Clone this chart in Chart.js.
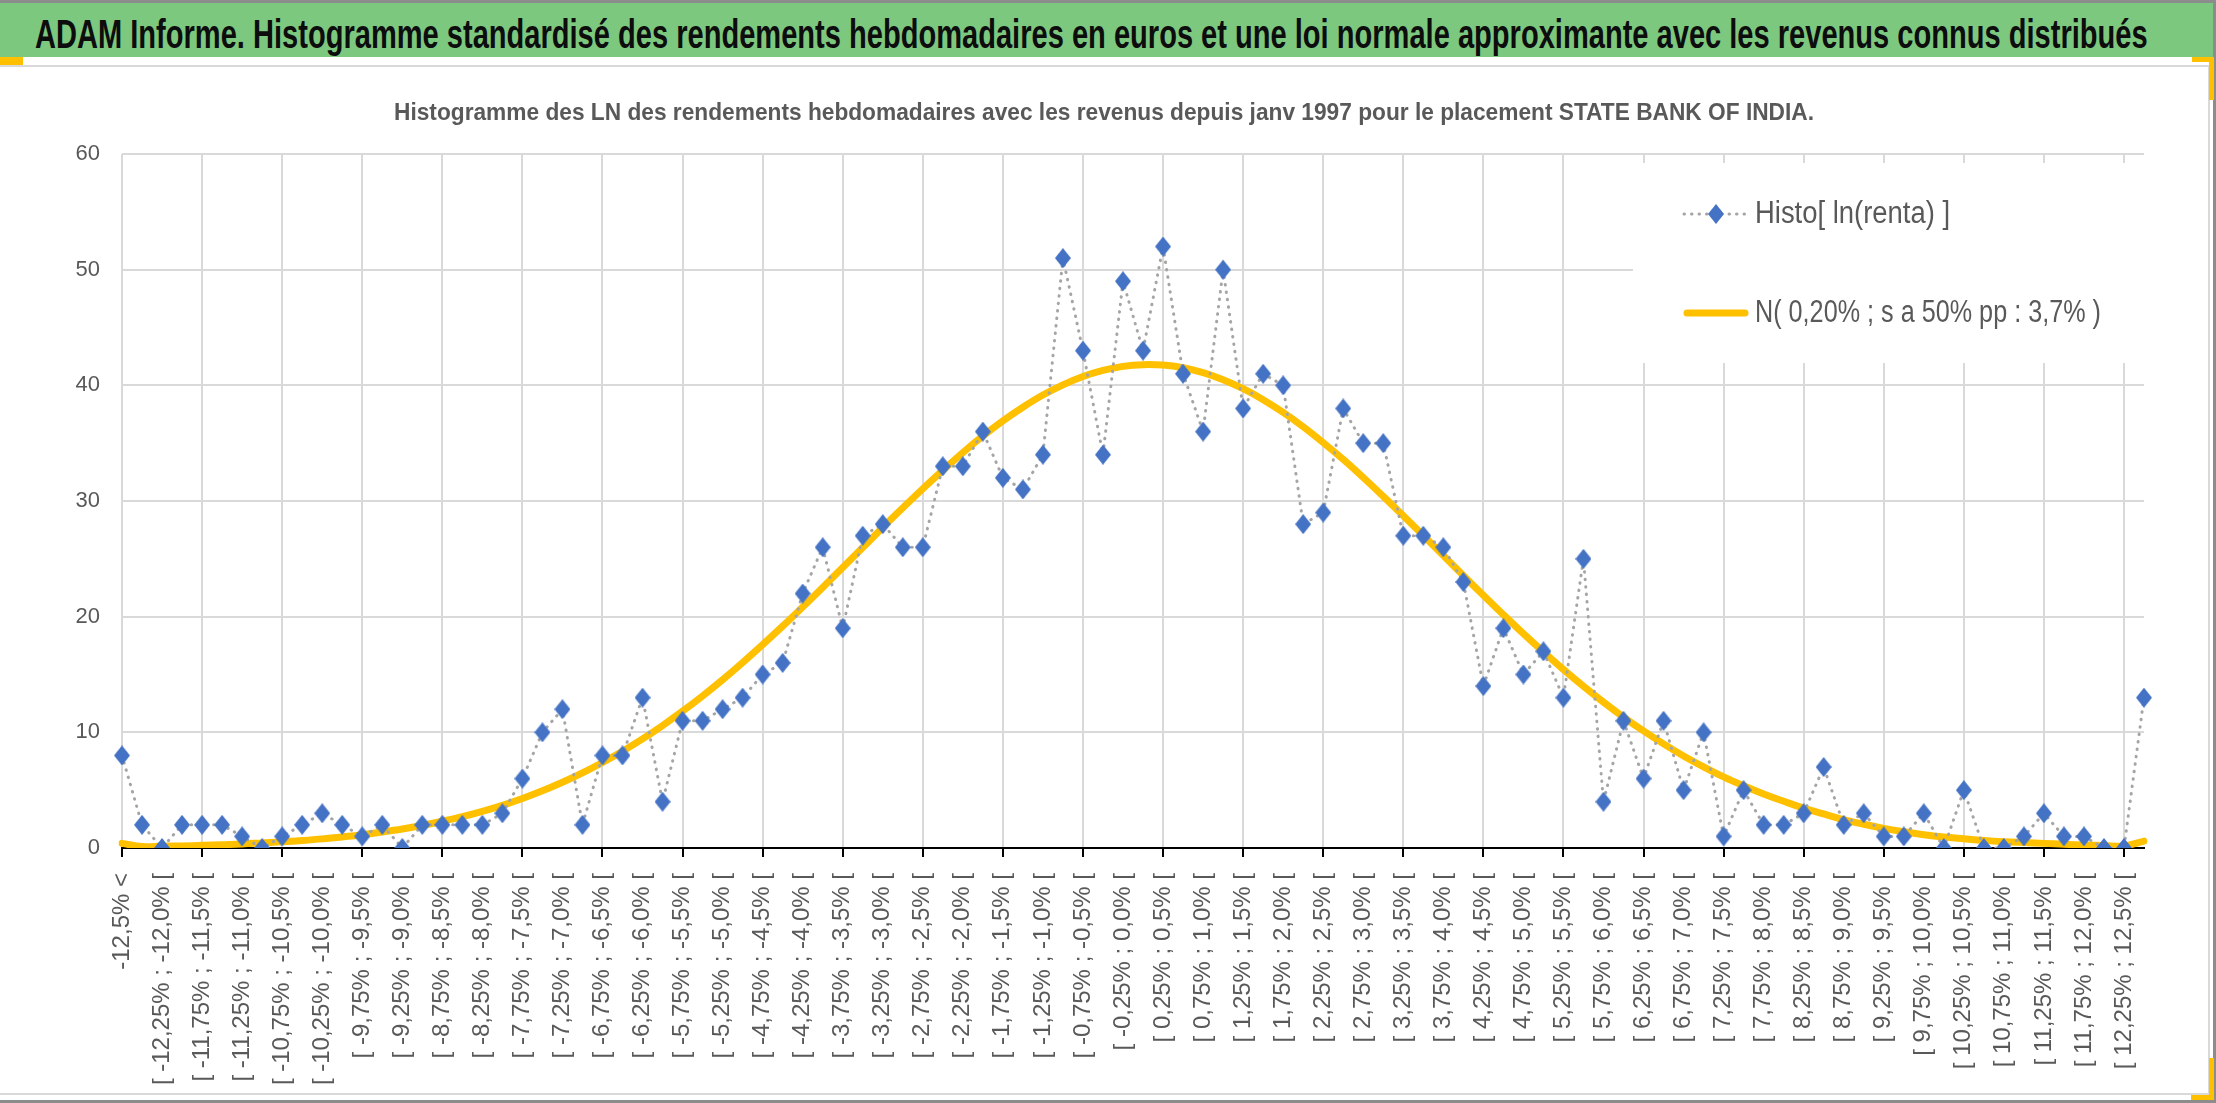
<!DOCTYPE html>
<html>
<head>
<meta charset="utf-8">
<title>ADAM Informe - STATE BANK OF INDIA</title>
<script src="https://cdn.jsdelivr.net/npm/chart.js@4.4.0/dist/chart.umd.min.js"></script>
<style>
  html, body { margin:0; padding:0; background:#fff; }
  #page { position:relative; width:2216px; height:1103px; overflow:hidden; background:#fff; }
  #bandeau { position:absolute; left:0; top:3px; width:2213px; height:54px; background:#7DC87F; }
  #bandeau_txt { position:absolute; left:35px; top:7px; height:54px; line-height:54px; white-space:nowrap; font-weight:bold; font-size:40px; color:#0d0d0d; transform-origin:0 50%; }
  #cadre { position:absolute; left:0; top:65px; width:2208px; height:1026px; border:2px solid #D9D9D9; border-left:none; }
  #zone { position:absolute; left:0; top:67px; width:2208px; height:1025px; }
  .trait { position:absolute; background:#8c8c8c; }
  .poignee { position:absolute; background:#FFC000; }
</style>
</head>
<body>
<div id="page">
  <div class="trait" style="left:0;top:0;width:2216px;height:3px"></div>
  <div class="trait" style="left:2213px;top:0;width:3px;height:1103px"></div>
  <div class="trait" style="left:0;top:1100px;width:2216px;height:3px"></div>
  <div id="bandeau"></div>
  <div id="bandeau_txt"></div>
  <div id="cadre"></div>
  <div id="zone"><canvas id="graphique" width="2208" height="1025"></canvas></div>
  <div class="poignee" style="left:0;top:57px;width:23px;height:8px"></div>
  <div class="poignee" style="left:2192px;top:57px;width:22px;height:5px"></div>
  <div class="poignee" style="left:2209px;top:57px;width:5px;height:43px"></div>
  <div class="poignee" style="left:2191px;top:1095px;width:23px;height:5px"></div>
  <div class="poignee" style="left:2209px;top:1058px;width:5px;height:42px"></div>
</div>
<script>
var titre = 'ADAM Informe. Histogramme standardisé des rendements hebdomadaires en euros et une loi normale approximante avec les revenus connus distribués';
var sousTitre = 'Histogramme des LN des rendements hebdomadaires avec les revenus depuis janv 1997 pour le placement STATE BANK OF INDIA.';
var legendes = ['Histo[ ln(renta) ]', 'N( 0,20% ; s a 50% pp : 3,7% )'];

var categories = [
  '-12,5% <',
  '[ -12,5% ; -12,25% [', '[ -12,25% ; -12,0% [', '[ -12,0% ; -11,75% [', '[ -11,75% ; -11,5% [',
  '[ -11,5% ; -11,25% [', '[ -11,25% ; -11,0% [', '[ -11,0% ; -10,75% [', '[ -10,75% ; -10,5% [',
  '[ -10,5% ; -10,25% [', '[ -10,25% ; -10,0% [', '[ -10,0% ; -9,75% [', '[ -9,75% ; -9,5% [',
  '[ -9,5% ; -9,25% [', '[ -9,25% ; -9,0% [', '[ -9,0% ; -8,75% [', '[ -8,75% ; -8,5% [',
  '[ -8,5% ; -8,25% [', '[ -8,25% ; -8,0% [', '[ -8,0% ; -7,75% [', '[ -7,75% ; -7,5% [',
  '[ -7,5% ; -7,25% [', '[ -7,25% ; -7,0% [', '[ -7,0% ; -6,75% [', '[ -6,75% ; -6,5% [',
  '[ -6,5% ; -6,25% [', '[ -6,25% ; -6,0% [', '[ -6,0% ; -5,75% [', '[ -5,75% ; -5,5% [',
  '[ -5,5% ; -5,25% [', '[ -5,25% ; -5,0% [', '[ -5,0% ; -4,75% [', '[ -4,75% ; -4,5% [',
  '[ -4,5% ; -4,25% [', '[ -4,25% ; -4,0% [', '[ -4,0% ; -3,75% [', '[ -3,75% ; -3,5% [',
  '[ -3,5% ; -3,25% [', '[ -3,25% ; -3,0% [', '[ -3,0% ; -2,75% [', '[ -2,75% ; -2,5% [',
  '[ -2,5% ; -2,25% [', '[ -2,25% ; -2,0% [', '[ -2,0% ; -1,75% [', '[ -1,75% ; -1,5% [',
  '[ -1,5% ; -1,25% [', '[ -1,25% ; -1,0% [', '[ -1,0% ; -0,75% [', '[ -0,75% ; -0,5% [',
  '[ -0,5% ; -0,25% [', '[ -0,25% ; 0,0% [', '[ 0,0% ; 0,25% [', '[ 0,25% ; 0,5% [',
  '[ 0,5% ; 0,75% [', '[ 0,75% ; 1,0% [', '[ 1,0% ; 1,25% [', '[ 1,25% ; 1,5% [',
  '[ 1,5% ; 1,75% [', '[ 1,75% ; 2,0% [', '[ 2,0% ; 2,25% [', '[ 2,25% ; 2,5% [',
  '[ 2,5% ; 2,75% [', '[ 2,75% ; 3,0% [', '[ 3,0% ; 3,25% [', '[ 3,25% ; 3,5% [',
  '[ 3,5% ; 3,75% [', '[ 3,75% ; 4,0% [', '[ 4,0% ; 4,25% [', '[ 4,25% ; 4,5% [',
  '[ 4,5% ; 4,75% [', '[ 4,75% ; 5,0% [', '[ 5,0% ; 5,25% [', '[ 5,25% ; 5,5% [',
  '[ 5,5% ; 5,75% [', '[ 5,75% ; 6,0% [', '[ 6,0% ; 6,25% [', '[ 6,25% ; 6,5% [',
  '[ 6,5% ; 6,75% [', '[ 6,75% ; 7,0% [', '[ 7,0% ; 7,25% [', '[ 7,25% ; 7,5% [',
  '[ 7,5% ; 7,75% [', '[ 7,75% ; 8,0% [', '[ 8,0% ; 8,25% [', '[ 8,25% ; 8,5% [',
  '[ 8,5% ; 8,75% [', '[ 8,75% ; 9,0% [', '[ 9,0% ; 9,25% [', '[ 9,25% ; 9,5% [',
  '[ 9,5% ; 9,75% [', '[ 9,75% ; 10,0% [', '[ 10,0% ; 10,25% [', '[ 10,25% ; 10,5% [',
  '[ 10,5% ; 10,75% [', '[ 10,75% ; 11,0% [', '[ 11,0% ; 11,25% [', '[ 11,25% ; 11,5% [',
  '[ 11,5% ; 11,75% [', '[ 11,75% ; 12,0% [', '[ 12,0% ; 12,25% [', '[ 12,25% ; 12,5% [',
  '12,5% >'
];

// nombre de semaines par classe
var histo = [
  8, 2, 0, 2, 2, 2, 1, 0, 1, 2,
  3, 2, 1, 2, 0, 2, 2, 2, 2, 3,
  6, 10, 12, 2, 8, 8, 13, 4, 11, 11,
  12, 13, 15, 16, 22, 26, 19, 27, 28, 26,
  26, 33, 33, 36, 32, 31, 34, 51, 43, 34,
  49, 43, 52, 41, 36, 50, 38, 41, 40, 28,
  29, 38, 35, 35, 27, 27, 26, 23, 14, 19,
  15, 17, 13, 25, 4, 11, 6, 11, 5, 10,
  1, 5, 2, 2, 3, 7, 2, 3, 1, 1,
  3, 0, 5, 0, 0, 1, 3, 1, 1, 0,
  0, 13
];

// courbe jaune
var loiNormale = [
  0.4, 0.12, 0.15, 0.18, 0.23, 0.29, 0.35, 0.44, 0.53, 0.65,
  0.79, 0.96, 1.15, 1.38, 1.64, 1.95, 2.31, 2.71, 3.17, 3.69,
  4.28, 4.94, 5.68, 6.49, 7.39, 8.36, 9.43, 10.59, 11.83, 13.15,
  14.55, 16.03, 17.58, 19.18, 20.84, 22.53, 24.26, 25.97, 27.71, 29.4,
  31.06, 32.65, 34.19, 35.62, 36.93, 38.11, 39.16, 40.04, 40.76, 41.29,
  41.64, 41.79, 41.75, 41.52, 41.1, 40.49, 39.71, 38.76, 37.66, 36.42,
  35.05, 33.59, 32.03, 30.4, 28.73, 27.02, 25.29, 23.56, 21.85, 20.17,
  18.53, 16.95, 15.43, 13.98, 12.61, 11.32, 10.12, 9.0, 7.96, 7.02,
  6.15, 5.38, 4.67, 4.04, 3.45, 2.95, 2.45, 2.05, 1.7, 1.4,
  1.15, 0.95, 0.8, 0.66, 0.55, 0.47, 0.4, 0.32, 0.26, 0.21,
  0.17, 0.6
];

var yMin = 0, yMax = 60, yPas = 10;

var mesure = document.createElement('canvas').getContext('2d');
function police_dispo(nom) {
  mesure.font = '40px monospace';
  var a = mesure.measureText('abcdefghij ABCDEF 0123456789').width;
  mesure.font = '40px "' + nom + '", monospace';
  return mesure.measureText('abcdefghij ABCDEF 0123456789').width !== a;
}
var ETROITE = police_dispo('Liberation Sans Narrow') ? 'Liberation Sans Narrow' : 'Liberation Sans';

function largeur(texte, police) {
  mesure.font = police;
  return mesure.measureText(texte).width;
}

// bandeau vert du haut
var bt = document.getElementById('bandeau_txt');
bt.style.fontFamily = '"' + ETROITE + '", sans-serif';
bt.textContent = titre;
bt.style.transform = 'scaleX(' + (2113 / bt.offsetWidth) + ')';

// texte condense comme dans Excel : police normale tassee en largeur
var policeSousTitre = 'bold 24px "' + ETROITE + '"';
var echelleSousTitre = 1420 / largeur(sousTitre, policeSousTitre);
var policeLegende = '31px "' + ETROITE + '"';
var echellesLegende = [195 / largeur(legendes[0], policeLegende), 346 / largeur(legendes[1], policeLegende)];

// losange un peu plus haut que large
var losange = document.createElement('canvas');
losange.width = 16;
losange.height = 20;
(function() {
  var g = losange.getContext('2d');
  g.fillStyle = '#4472C4';
  g.beginPath();
  g.moveTo(8, 0);
  g.lineTo(16, 10);
  g.lineTo(8, 20);
  g.lineTo(0, 10);
  g.closePath();
  g.fill();
})();

function texte_tasse(c, txt, x, y, echelle, align) {
  c.save();
  c.translate(x, y);
  c.scale(echelle, 1);
  c.textAlign = align;
  c.fillText(txt, 0, 0);
  c.restore();
}

var sousTitreEtroit = {
  id: 'sousTitreEtroit',
  afterDraw: function(chart) {
    var c = chart.ctx;
    c.save();
    c.fillStyle = '#595959';
    c.font = policeSousTitre;
    c.textBaseline = 'middle';
    texte_tasse(c, sousTitre, chart.width / 2, 46, echelleSousTitre, 'center');
    c.restore();
  }
};

var legendeExcel = {
  id: 'legendeExcel',
  afterDraw: function(chart) {
    var c = chart.ctx, a = chart.chartArea;
    var y1 = a.top + 60, y2 = a.top + 159;
    c.save();
    c.fillStyle = '#ffffff';
    c.fillRect(a.right - 511, a.top + 9, 512, 200);

    c.strokeStyle = '#A5A5A5';
    c.lineWidth = 3;
    c.lineCap = 'round';
    c.setLineDash([0.5, 7]);
    c.beginPath();
    c.moveTo(a.right - 460, y1);
    c.lineTo(a.right - 399, y1);
    c.stroke();
    c.setLineDash([]);
    c.drawImage(losange, a.right - 436, y1 - 10);

    c.strokeStyle = '#FFC000';
    c.lineWidth = 7;
    c.beginPath();
    c.moveTo(a.right - 457, y2);
    c.lineTo(a.right - 399, y2);
    c.stroke();

    c.fillStyle = '#595959';
    c.font = policeLegende;
    c.textBaseline = 'middle';
    texte_tasse(c, legendes[0], a.right - 389, y1, echellesLegende[0], 'left');
    texte_tasse(c, legendes[1], a.right - 389, y2, echellesLegende[1], 'left');
    c.restore();
  }
};

new Chart(document.getElementById('graphique'), {
  type: 'line',
  data: {
    labels: categories,
    datasets: [{
      label: legendes[0],
      data: histo,
      borderColor: '#A5A5A5',
      borderWidth: 3,
      borderDash: [0.5, 7],
      borderCapStyle: 'round',
      tension: 0,
      pointStyle: losange,
      pointRadius: 9,
      fill: false
    }, {
      label: legendes[1],
      data: loiNormale,
      borderColor: '#FFC000',
      borderWidth: 7,
      borderCapStyle: 'round',
      tension: 0.4,
      pointRadius: 0,
      fill: false
    }]
  },
  options: {
    responsive: false,
    animation: false,
    devicePixelRatio: 1,
    layout: { padding: { top: 87, left: 0, right: 0, bottom: 0 } },
    plugins: {
      legend: { display: false },
      tooltip: { enabled: false },
      title: { display: false }
    },
    scales: {
      x: {
        offset: false,
        grid: {
          color: function(c) { return c.index % 4 === 0 ? '#D9D9D9' : 'rgba(0,0,0,0)'; },
          tickColor: function(c) { return c.index % 4 === 0 ? '#000000' : 'rgba(0,0,0,0)'; },
          lineWidth: 2,
          tickLength: 9
        },
        border: { color: '#000000', width: 2 },
        ticks: {
          autoSkip: false,
          maxRotation: 90,
          minRotation: 90,
          padding: 16,
          color: '#595959',
          font: { family: 'Liberation Sans', size: 24 },
          callback: function(v, i) { return i % 2 === 0 ? categories[i] : ''; }
        },
        afterFit: function(s) { s.height = 244; s.paddingLeft = 0; s.paddingRight = 0; }
      },
      y: {
        min: yMin,
        max: yMax,
        grid: {
          color: function(c) { return c.tick.value === 0 ? 'rgba(0,0,0,0)' : '#D9D9D9'; },
          lineWidth: 2,
          drawTicks: false
        },
        border: { display: false },
        ticks: { stepSize: yPas, padding: 22, color: '#595959', font: { family: ETROITE, size: 22 } },
        afterFit: function(s) { s.width = 122; }
      },
      y2: {
        position: 'right',
        min: 0,
        max: 1,
        grid: { display: false, drawTicks: false },
        border: { display: false },
        ticks: { display: false },
        afterFit: function(s) { s.width = 64; }
      }
    }
  },
  plugins: [sousTitreEtroit, legendeExcel]
});
</script>
</body>
</html>
